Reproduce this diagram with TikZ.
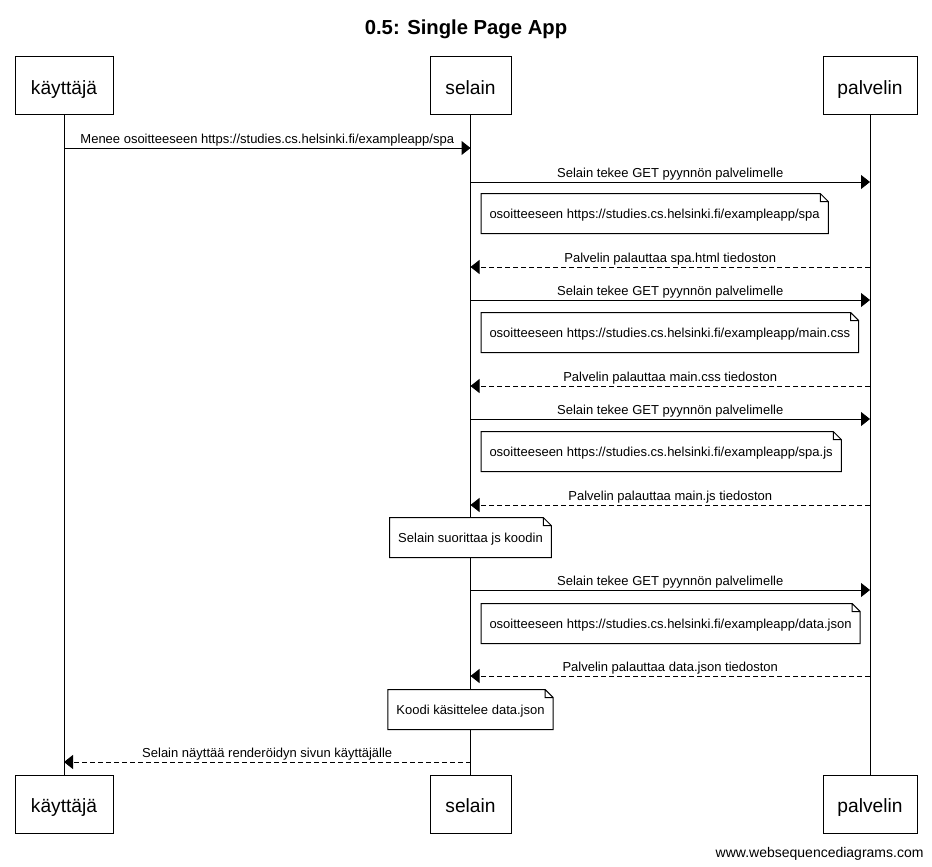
\documentclass[tikz,border=0pt]{standalone}
\usepackage{fontspec}
\setmainfont{Liberation Sans}
\usetikzlibrary{arrows.meta}
\usetikzlibrary{positioning}

\tikzset{
  actor/.style={rectangle, draw, minimum height=43.5pt, text height=12.5pt, text depth=0pt, font=\fontsize{14.4}{17}\selectfont},
  msg/.style={-{Triangle[length=6.75pt,width=10.5pt]}},
  reply/.style={msg, dash pattern=on 3.75pt off 2.25pt},
  lbl/.style={anchor=base, inner sep=0pt, yshift=3.75pt, font=\fontsize{9.75}{12}\selectfont},
  note/.style={rectangle, minimum height=29.25pt, inner xsep=6pt, text height=9pt, text depth=1pt, font=\fontsize{9.75}{12}\selectfont,
    append after command={\pgfextra{\draw[fill=white] (\tikzlastnode.south west) -- (\tikzlastnode.north west) -- ([xshift=-6pt]\tikzlastnode.north east) -- ([yshift=-6pt]\tikzlastnode.north east) -- (\tikzlastnode.south east) -- cycle ([xshift=-6pt]\tikzlastnode.north east) |- ([yshift=-6pt]\tikzlastnode.north east);}}}
}

\begin{document}
\begin{tikzpicture}[x=0.75pt, y=-0.75pt, line width=0.75pt]
        \useasboundingbox (0,0) rectangle (932,867);
        \node[font=\bfseries\fontsize{15.2}{18}\selectfont] (title) at (466,29) {0.5: Single Page App};
        % participants
        \node[actor, minimum width=73.5pt] (ktop) at (64,86) {käyttäjä};
        \node[actor, minimum width=60.75pt] (stop) at (470.5,86) {selain};
        \node[actor, minimum width=70.5pt] (ptop) at (870,86) {palvelin};
        \node[actor, minimum width=73.5pt] (kbot) at (64,804.5) {käyttäjä};
        \node[actor, minimum width=60.75pt] (sbot) at (470.5,804.5) {selain};
        \node[actor, minimum width=70.5pt] (pbot) at (870,804.5) {palvelin};
        \draw (ktop) -- (kbot);
        \draw (stop) -- (sbot);
        \draw (ptop) -- (pbot);
        % rows
        \coordinate (m1) at (0,148);
        \coordinate (m2) at (0,182);
        \coordinate (m3) at (0,267);
        \coordinate (m4) at (0,300);
        \coordinate (m5) at (0,386);
        \coordinate (m6) at (0,419);
        \coordinate (m7) at (0,505);
        \coordinate (m8) at (0,590);
        \coordinate (m9) at (0,676);
        \coordinate (m10) at (0,762);
        % messages
        \draw[msg] (ktop |- m1) -- (stop |- m1) node[lbl, midway] {Menee osoitteeseen https://studies.cs.helsinki.fi/exampleapp/spa};
        \draw[msg] (stop |- m2) -- (ptop |- m2) node[lbl, midway] {Selain tekee GET pyynnön palvelimelle};
        \node[note, anchor=west] (note1) at (481,213.5) {osoitteeseen https://studies.cs.helsinki.fi/exampleapp/spa};
        \draw[reply] (ptop |- m3) -- (stop |- m3) node[lbl, midway] {Palvelin palauttaa spa.html tiedoston};
        \draw[msg] (stop |- m4) -- (ptop |- m4) node[lbl, midway] {Selain tekee GET pyynnön palvelimelle};
        \node[note, anchor=west] (note2) at (481,332.5) {osoitteeseen https://studies.cs.helsinki.fi/exampleapp/main.css};
        \draw[reply] (ptop |- m5) -- (stop |- m5) node[lbl, midway] {Palvelin palauttaa main.css tiedoston};
        \draw[msg] (stop |- m6) -- (ptop |- m6) node[lbl, midway] {Selain tekee GET pyynnön palvelimelle};
        \node[note, anchor=west] (note3) at (481,451.5) {osoitteeseen https://studies.cs.helsinki.fi/exampleapp/spa.js};
        \draw[reply] (ptop |- m7) -- (stop |- m7) node[lbl, midway] {Palvelin palauttaa main.js tiedoston};
        \node[note] (note4) at (470.5,537.5) {Selain suorittaa js koodin};
        \draw[msg] (stop |- m8) -- (ptop |- m8) node[lbl, midway] {Selain tekee GET pyynnön palvelimelle};
        \node[note, anchor=west] (note5) at (481,623.5) {osoitteeseen https://studies.cs.helsinki.fi/exampleapp/data.json};
        \draw[reply] (ptop |- m9) -- (stop |- m9) node[lbl, midway] {Palvelin palauttaa data.json tiedoston};
        \node[note] (note6) at (470.5,709.5) {Koodi käsittelee data.json};
        \draw[reply] (stop |- m10) -- (ktop |- m10) node[lbl, midway] {Selain näyttää renderöidyn sivun käyttäjälle};
        \node[anchor=base east, inner sep=0pt, font=\fontsize{10.5}{12}\selectfont] (credit) at (924,857) {www.websequencediagrams.com};
\end{tikzpicture}
\end{document}
